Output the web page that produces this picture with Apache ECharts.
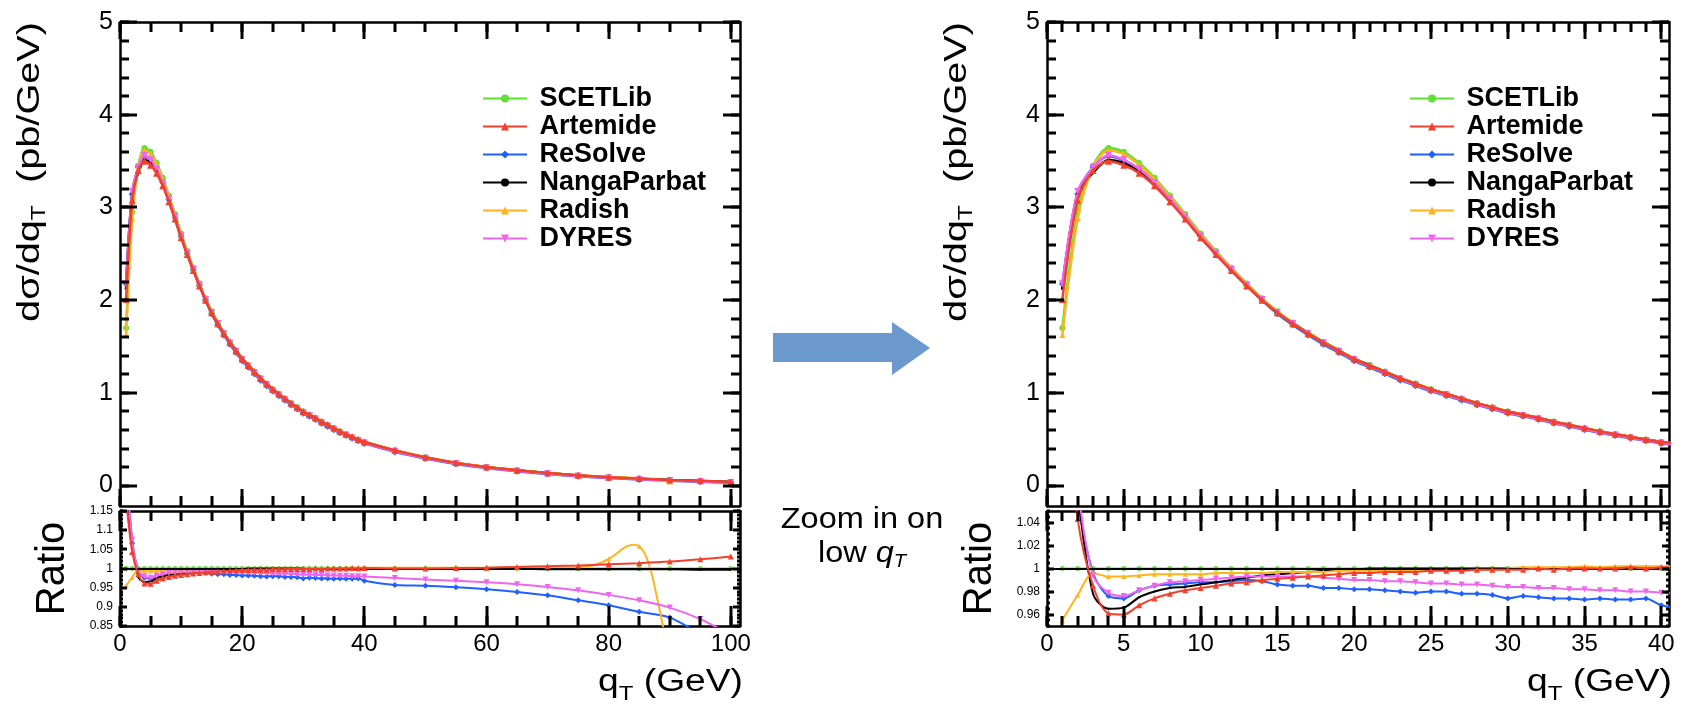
<!DOCTYPE html>
<html>
<head>
<meta charset="utf-8">
<title>Z boson q_T spectrum — generator comparison</title>
<script src="https://cdn.jsdelivr.net/npm/echarts@6.0.0/dist/echarts.min.js"></script>
<style>
  html, body { margin: 0; padding: 0; background: #ffffff; }
  #chart { width: 1683px; height: 713px; }
</style>
</head>
<body>
<div id="chart"></div>
<script>
// ---------------------------------------------------------------------------
// Data: q_T bin positions (GeV)
const qT = [
  1, 2, 3, 4, 5, 6, 7, 8, 9, 10,
  11, 12, 13, 14, 15, 16, 17, 18, 19, 20,
  21, 22, 23, 24, 25, 26, 27, 28, 29, 30,
  31, 32, 33, 34, 35, 36, 37, 38, 39, 40,
  45, 50, 55, 60, 65, 70, 75, 80, 85, 90, 95, 100
];

// SCETLib dσ/dq_T (pb/GeV) — reference prediction
const scetlib = [
  1.70, 2.95, 3.45, 3.64, 3.60, 3.48, 3.32, 3.13, 2.93, 2.72,
  2.53, 2.35, 2.18, 2.02, 1.88, 1.76, 1.65, 1.55, 1.46, 1.37,
  1.30, 1.23, 1.16, 1.10, 1.04, 0.99, 0.94, 0.89, 0.845, 0.80,
  0.765, 0.73, 0.69, 0.655, 0.62, 0.585, 0.555, 0.525, 0.497, 0.47,
  0.38, 0.305, 0.245, 0.20, 0.165, 0.135, 0.11, 0.09, 0.075, 0.06, 0.05, 0.04
];

// Ratios of each prediction to SCETLib, on the same q_T points
const ratioArtemide = [
  1.180, 1.043, 0.985, 0.961, 0.960, 0.968, 0.974, 0.978, 0.981, 0.983,
  0.985, 0.987, 0.988, 0.990, 0.991, 0.992, 0.993, 0.994, 0.995, 0.996,
  0.996, 0.997, 0.997, 0.997, 0.998, 0.998, 0.998, 0.999, 0.999, 0.999,
  0.999, 1.000, 0.999, 1.000, 1.000, 1.000, 1.000, 1.001, 1.000, 1.001,
  1.000, 1.000, 1.001, 1.002, 1.004, 1.006, 1.008, 1.011, 1.014, 1.018, 1.024, 1.031
];
const ratioReSolve = [
  1.280, 1.065, 0.996, 0.976, 0.974, 0.981, 0.985, 0.986, 0.987, 0.988,
  0.988, 0.989, 0.990, 0.989, 0.986, 0.985, 0.985, 0.983, 0.983, 0.982,
  0.982, 0.981, 0.980, 0.979, 0.980, 0.980, 0.978, 0.978, 0.977, 0.974,
  0.976, 0.975, 0.974, 0.974, 0.973, 0.974, 0.973, 0.973, 0.974, 0.968,
  0.957, 0.955, 0.951, 0.946, 0.939, 0.930, 0.917, 0.904, 0.887, 0.872, 0.829, 0.780
];
const ratioNangaParbat = [
  1.250, 1.070, 0.978, 0.965, 0.966, 0.975, 0.980, 0.983, 0.984, 0.986,
  0.988, 0.990, 0.992, 0.994, 0.995, 0.996, 0.997, 0.998, 0.999, 0.999,
  1.000, 1.000, 1.000, 1.000, 1.000, 1.000, 1.000, 1.000, 1.000, 1.000,
  1.000, 1.000, 1.000, 1.000, 1.000, 1.000, 1.000, 1.000, 1.000, 1.000,
  0.999, 0.999, 0.999, 0.999, 0.999, 0.998, 0.998, 0.998, 0.998, 0.998, 0.997, 0.997
];
const ratioRadish = [
  0.955, 0.977, 0.996, 0.993, 0.993, 0.994, 0.995, 0.995, 0.995, 0.995,
  0.996, 0.996, 0.996, 0.996, 0.997, 0.997, 0.997, 0.997, 0.998, 0.998,
  0.998, 0.998, 0.998, 0.998, 0.999, 0.999, 0.999, 0.999, 0.999, 1.000,
  1.001, 1.001, 1.001, 1.001, 1.002, 1.001, 1.002, 1.002, 1.002, 1.002,
  1.002, 1.002, 1.002, 1.002, 1.002, 1.003, 1.004, 1.025, 1.058, 0.750, null, null
];
const ratioDYRES = [
  1.280, 1.075, 0.994, 0.979, 0.976, 0.981, 0.985, 0.988, 0.989, 0.990,
  0.991, 0.992, 0.993, 0.993, 0.993, 0.993, 0.993, 0.992, 0.991, 0.990,
  0.990, 0.989, 0.989, 0.988, 0.987, 0.987, 0.986, 0.986, 0.985, 0.984,
  0.984, 0.983, 0.983, 0.982, 0.982, 0.981, 0.981, 0.980, 0.980, 0.979,
  0.975, 0.971, 0.968, 0.964, 0.959, 0.952, 0.943, 0.931, 0.917, 0.898, 0.868, 0.827
];
// Radish ratio in finer steps across its high-q_T bump
const radishFineQT = [76, 77, 78, 79, 81, 82, 83, 84, 86, 87, 88, 89];
const radishFineRatio = [1.005, 1.007, 1.011, 1.017, 1.035, 1.048, 1.058, 1.062, 1.036, 0.988, 0.918, 0.840];

// Tick labels
const leftXLabels = [0, 20, 40, 60, 80, 100];
const rightXLabels = [0, 5, 10, 15, 20, 25, 30, 35, 40];
const mainYLabels = [0, 1, 2, 3, 4, 5];
const leftRatioLabels = [0.85, 0.9, 0.95, 1, 1.05, 1.1, 1.15];
const rightRatioLabels = [0.96, 0.98, 1, 1.02, 1.04];

// ---------------------------------------------------------------------------
const FONT = '"Liberation Sans", Arial, Helvetica, sans-serif';

function steps(a, b, s) {
  const out = [];
  const n = Math.round((b - a) / s);
  for (let i = 0; i <= n; i++) out.push(+(a + i * s).toFixed(4));
  return out;
}
const fmt = v => String(+(+v).toFixed(4));

const models = [
  { name: 'SCETLib',     ratio: scetlib.map((v, i) => v / scetlib[i]), color: '#5fe033', symbol: 'circle',   size: 6, z: 2 },
  { name: 'Artemide',    ratio: ratioArtemide,    color: '#f2402c', symbol: 'triangle', size: 7, z: 7 },
  { name: 'ReSolve',     ratio: ratioReSolve,     color: '#2160ff', symbol: 'diamond',  size: 7, z: 3 },
  { name: 'NangaParbat', ratio: ratioNangaParbat, color: '#000000', symbol: 'circle',   size: 3, z: 4 },
  { name: 'Radish',      ratio: ratioRadish,      color: '#ffb41f', symbol: 'triangle', size: 6, z: 4 },
  { name: 'DYRES',       ratio: ratioDYRES,       color: '#ee66ee', symbol: 'triangle', size: 7, z: 4, rotate: 180 }
];

// Panel layout: main pad + ratio pad for the full range and the low-q_T zoom
const panels = [
  {
    left: 120, width: 620, xMax: 101.5,
    xMajor: leftXLabels, xMinor: steps(0, 100, 5),
    rMin: 0.85, rMax: 1.15, rMajor: leftRatioLabels, rMinor: steps(0.85, 1.15, 0.01),
    legendLeft: 477
  },
  {
    left: 1047, width: 622, xMax: 40.5,
    xMajor: rightXLabels, xMinor: steps(0, 40, 1),
    rMin: 0.95, rMax: 1.05, rMajor: rightRatioLabels, rMinor: steps(0.95, 1.05, 0.005),
    legendLeft: 1404
  }
];
const MAIN_TOP = 22, MAIN_H = 484, RATIO_TOP = 511, RATIO_H = 115;
const yMainMin = -0.22, yMainMax = 5;
const mainYMinor = steps(0, 5, 0.2);

const grid = [], xAxis = [], yAxis = [], series = [], legend = [];
const black = { color: '#000', width: 2.5 };

// Frame: bottom/top x axes and left/right y axes of one pad (labels on bottom and left)
function addAxes(gi, xmin, xmax, xMajor, xLabels, ymin, ymax, yMajor, yFont) {
  const xBase = { type: 'value', gridIndex: gi, min: xmin, max: xmax, splitLine: { show: false },
                  axisTick: { show: false }, minorTick: { show: false } };
  xAxis.push(
    { ...xBase, position: 'bottom', axisLine: { show: true, onZero: false, lineStyle: black },
      axisLabel: { show: xLabels, customValues: xMajor, formatter: fmt, margin: 6,
                   fontFamily: FONT, fontSize: 24, color: '#000', showMinLabel: true, showMaxLabel: true } },
    { ...xBase, position: 'top', axisLine: { show: true, onZero: false, lineStyle: black },
      axisLabel: { show: false } }
  );
  const yBase = { type: 'value', gridIndex: gi, min: ymin, max: ymax, splitLine: { show: false },
                  axisTick: { show: false }, minorTick: { show: false } };
  yAxis.push(
    { ...yBase, position: 'left', axisLine: { show: true, onZero: false, lineStyle: black },
      axisLabel: { show: true, customValues: yMajor, formatter: fmt, margin: 7, fontFamily: FONT,
                   fontSize: yFont, color: '#000', showMinLabel: true, showMaxLabel: true } },
    { ...yBase, position: 'right', axisLine: { show: true, onZero: false, lineStyle: black },
      axisLabel: { show: false } }
  );
}

function radishRatioData() {
  const pts = [];
  qT.forEach((x, i) => { if (ratioRadish[i] != null) pts.push({ value: [x, ratioRadish[i]] }); });
  radishFineQT.forEach((x, i) => pts.push({ value: [x, radishFineRatio[i]], symbol: 'none' }));
  pts.sort((a, b) => a.value[0] - b.value[0]);
  return pts;
}

// Tick specs per pad
const tickSpecs = [];
panels.forEach((p, pi) => {
  const gMain = pi * 2, gRatio = pi * 2 + 1;
  grid.push({ left: p.left, top: MAIN_TOP, width: p.width, height: MAIN_H });
  grid.push({ left: p.left, top: RATIO_TOP, width: p.width, height: RATIO_H });

  addAxes(gMain, 0, p.xMax, p.xMajor, false, yMainMin, yMainMax, mainYLabels, 25);
  addAxes(gRatio, 0, p.xMax, p.xMajor, true, p.rMin, p.rMax, p.rMajor, 12);

  tickSpecs.push({ gi: gMain, xmin: 0, xmax: p.xMax, ymin: yMainMin, ymax: yMainMax,
    xMajor: p.xMajor, xMinor: p.xMinor, xLen: [17, 10], yMajor: mainYLabels, yMinor: mainYMinor, yLen: [17, 9] });
  tickSpecs.push({ gi: gRatio, xmin: 0, xmax: p.xMax, ymin: p.rMin, ymax: p.rMax,
    xMajor: p.xMajor, xMinor: p.xMinor, xLen: [20, 10], yMajor: p.rMajor, yMinor: p.rMinor, yLen: [7, 3] });

  models.forEach(m => {
    const common = {
      name: m.name, type: 'line', symbol: m.symbol, symbolRotate: m.rotate || 0,
      smooth: 0.3, clip: true, z: m.z, animation: false, silent: true,
      itemStyle: { color: m.color }, lineStyle: { color: m.color, width: 2.5 }
    };
    const mainData = [];
    qT.forEach((x, i) => { if (m.ratio[i] != null) mainData.push([x, scetlib[i] * m.ratio[i]]); });
    series.push({ ...common, symbolSize: m.size, xAxisIndex: gMain * 2, yAxisIndex: gMain * 2, data: mainData });

    const ratioData = m.name === 'Radish'
      ? radishRatioData()
      : qT.map((x, i) => [x, m.ratio[i]]);
    const rs = { ...common, symbolSize: m.size - 1, lineStyle: { color: m.color, width: 2 },
                 xAxisIndex: gRatio * 2, yAxisIndex: gRatio * 2, data: ratioData };
    if (m.name === 'SCETLib') {
      rs.markLine = {
        silent: true, z: 5, symbol: ['none', 'none'], animation: false,
        label: { show: false }, lineStyle: { color: '#000', width: 2, type: 'solid' },
        data: [{ yAxis: 1 }]
      };
    }
    series.push(rs);
  });

  legend.push({
    orient: 'vertical', left: p.legendLeft, top: 80, itemWidth: 44, itemHeight: 10, itemGap: 1,
    selectedMode: false, formatter: ' {name}',
    textStyle: { fontFamily: FONT, fontWeight: 'bold', fontSize: 27, lineHeight: 24, color: '#000' },
    data: models.map(m => m.name)
  });
});

// Titles, arrow and annotation
const titleFont = { fontFamily: FONT, fill: '#000' };
const graphic = [];
panels.forEach(p => {
  graphic.push({
    type: 'text', x: p.left - 90, y: MAIN_TOP, rotation: Math.PI / 2, scaleX: 1.24,
    style: { ...titleFont, fontSize: 32, align: 'right', verticalAlign: 'middle',
      text: 'dσ/dq{s|T}  (pb/GeV)',
      rich: { s: { fontFamily: FONT, fontSize: 20, fill: '#000', padding: [18, 0, 0, 0] } } }
  });
  graphic.push({
    type: 'text', x: p.left - 67, y: RATIO_TOP + RATIO_H / 2, rotation: Math.PI / 2,
    style: { ...titleFont, fontSize: 40, align: 'center', verticalAlign: 'middle', text: 'Ratio' }
  });
  graphic.push({
    type: 'text', x: p.left + p.width + 3, y: 682, scaleX: 1.2,
    style: { ...titleFont, fontSize: 31, align: 'right', verticalAlign: 'middle',
      text: 'q{s|T} (GeV)',
      rich: { s: { fontFamily: FONT, fontSize: 20, fill: '#000', padding: [24, 0, 0, 0] } } }
  });
});
graphic.push({
  type: 'polygon',
  shape: { points: [[773, 333], [892, 333], [892, 322], [930, 348], [892, 375], [892, 362], [773, 362]] },
  style: { fill: '#6b99cd' }
});
graphic.push({
  type: 'text', x: 862, y: 520, scaleX: 1.12,
  style: { ...titleFont, fontSize: 29, align: 'center', verticalAlign: 'middle', text: 'Zoom in on' }
});
graphic.push({
  type: 'text', x: 862, y: 554, scaleX: 1.12,
  style: { ...titleFont, fontSize: 29, align: 'center', verticalAlign: 'middle',
    text: 'low {i|q}{s|T}',
    rich: {
      i: { fontFamily: FONT, fontSize: 29, fontStyle: 'italic', fill: '#000' },
      s: { fontFamily: FONT, fontSize: 18, fontStyle: 'italic', fill: '#000', padding: [15, 0, 0, 0] }
    } }
});

const chart = echarts.init(document.getElementById('chart'), null, { renderer: 'canvas' });
chart.setOption({
  animation: false,
  backgroundColor: '#ffffff',
  grid, xAxis, yAxis, series, legend, graphic
});

// Inward tick marks on all four sides of every pad, positioned through each pad's scales
const ticks = [];
tickSpecs.forEach(s => {
  const finder = { xAxisIndex: s.gi * 2, yAxisIndex: s.gi * 2 };
  const [left, bottom] = chart.convertToPixel(finder, [s.xmin, s.ymin]);
  const [right, top] = chart.convertToPixel(finder, [s.xmax, s.ymax]);
  const seg = (x1, y1, x2, y2) => ticks.push({
    type: 'line', silent: true, z: 50,
    shape: { x1, y1, x2, y2 }, style: { stroke: '#000', lineWidth: 3 }
  });
  const addX = (v, len) => {
    const px = Math.round(chart.convertToPixel(finder, [v, s.ymin])[0]);
    seg(px, bottom, px, bottom - len);
    seg(px, top, px, top + len);
  };
  const addY = (v, len) => {
    const py = Math.round(chart.convertToPixel(finder, [s.xmin, v])[1]);
    seg(left, py, left + len, py);
    seg(right, py, right - len, py);
  };
  s.xMinor.forEach(v => addX(v, s.xLen[1]));
  s.xMajor.forEach(v => addX(v, s.xLen[0]));
  s.yMinor.forEach(v => addY(v, s.yLen[1]));
  s.yMajor.forEach(v => addY(v, s.yLen[0]));
});
chart.setOption({ graphic: graphic.concat(ticks) });
</script>
</body>
</html>
